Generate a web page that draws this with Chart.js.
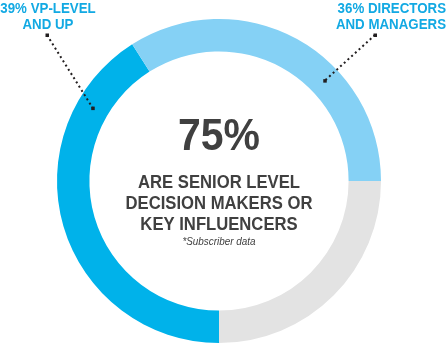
<!DOCTYPE html>
<html>
<head>
<meta charset="utf-8">
<script src="https://cdn.jsdelivr.net/npm/chart.js@4.4.1/dist/chart.umd.min.js"></script>
<style>
  html, body { margin: 0; padding: 0; background: #fff; }
</style>
</head>
<body>
<canvas id="chartLevel" width="446" height="345"></canvas>
<script>
// data
const categories = ['Other', '39% VP-Level and up', '36% Directors and managers'];
const shares = [25, 41, 34]; // as drawn in the ring
const colors = ['#e3e3e3', '#00b2ea', '#85d1f5'];

const leftLabel = ['39% VP-LEVEL', 'AND UP'];
const rightLabel = ['36% DIRECTORS', 'AND MANAGERS'];
const headline = '75%';
const subLines = ['ARE SENIOR LEVEL', 'DECISION MAKERS OR', 'KEY INFLUENCERS'];
const footnote = '*Subscriber data';

const FONT = '"Liberation Sans", Arial, sans-serif';

// text squeezed a bit sideways, to look like a condensed face
function squeezed(c, text, x, y, font, sx, align) {
  c.save();
  c.font = font;
  c.textAlign = align;
  c.translate(x, y);
  c.scale(sx, 1);
  c.fillText(text, 0, 0);
  c.restore();
}

function leader(c, x1, y1, x2, y2) {
  c.save();
  c.strokeStyle = '#231f20';
  c.fillStyle = '#231f20';
  c.lineWidth = 2;
  c.setLineDash([2, 3]);
  c.beginPath();
  c.moveTo(x1, y1);
  c.lineTo(x2, y2);
  c.stroke();
  c.fillRect(x1 - 1.5, y1 - 1.5, 3.5, 3.5);
  c.fillRect(x2 - 1.5, y2 - 1.5, 3.5, 3.5);
  c.restore();
}

const calloutPlugin = {
  id: 'callout',
  afterDraw(chart) {
    const c = chart.ctx;
    const arc = chart.getDatasetMeta(0).data[0];
    const cx = arc.x, cy = arc.y;
    const midR = (arc.innerRadius + arc.outerRadius) / 2;

    // point on the ring at an angle (deg clockwise from top)
    const onRing = (deg) => {
      const r = (deg - 90) * Math.PI / 180;
      return [cx + midR * Math.cos(r), cy + midR * Math.sin(r)];
    };

    // side labels
    c.save();
    c.fillStyle = '#12a9e3';
    const lf = 'bold 14px ' + FONT;
    squeezed(c, leftLabel[0], 48, 13, lf, 0.95, 'center');
    squeezed(c, leftLabel[1], 48, 28.5, lf, 0.95, 'center');
    squeezed(c, rightLabel[0], 446, 13, lf, 0.95, 'right');
    squeezed(c, rightLabel[1], 446, 28.5, lf, 0.95, 'right');
    c.restore();

    let p = onRing(300);
    leader(c, 47, 35, p[0], p[1]);
    p = onRing(46.5);
    leader(c, 375, 35, p[0], p[1]);

    // centre text
    c.save();
    c.fillStyle = '#404040';
    squeezed(c, headline, cx, 150, 'bold 45px ' + FONT, 0.91, 'center');
    const sf = 'bold 18.5px ' + FONT;
    squeezed(c, subLines[0], cx, 187.5, sf, 0.9, 'center');
    squeezed(c, subLines[1], cx, 209, sf, 0.9, 'center');
    squeezed(c, subLines[2], cx, 230, sf, 0.9, 'center');
    squeezed(c, footnote, cx, 245, 'italic 11px ' + FONT, 0.9, 'center');
    c.restore();
  }
};

const ctx = document.getElementById('chartLevel').getContext('2d');

new Chart(ctx, {
  type: 'doughnut',
  data: {
    labels: categories,
    datasets: [{
      data: shares,
      backgroundColor: colors,
      borderWidth: 0,
      hoverOffset: 0
    }]
  },
  options: {
    responsive: false,
    animation: false,
    rotation: 90,
    cutout: '80%',
    layout: {
      padding: { left: 57, top: 19, right: 65, bottom: 2 }
    },
    plugins: {
      legend: { display: false },
      tooltip: { enabled: false }
    }
  },
  plugins: [calloutPlugin]
});
</script>
</body>
</html>
